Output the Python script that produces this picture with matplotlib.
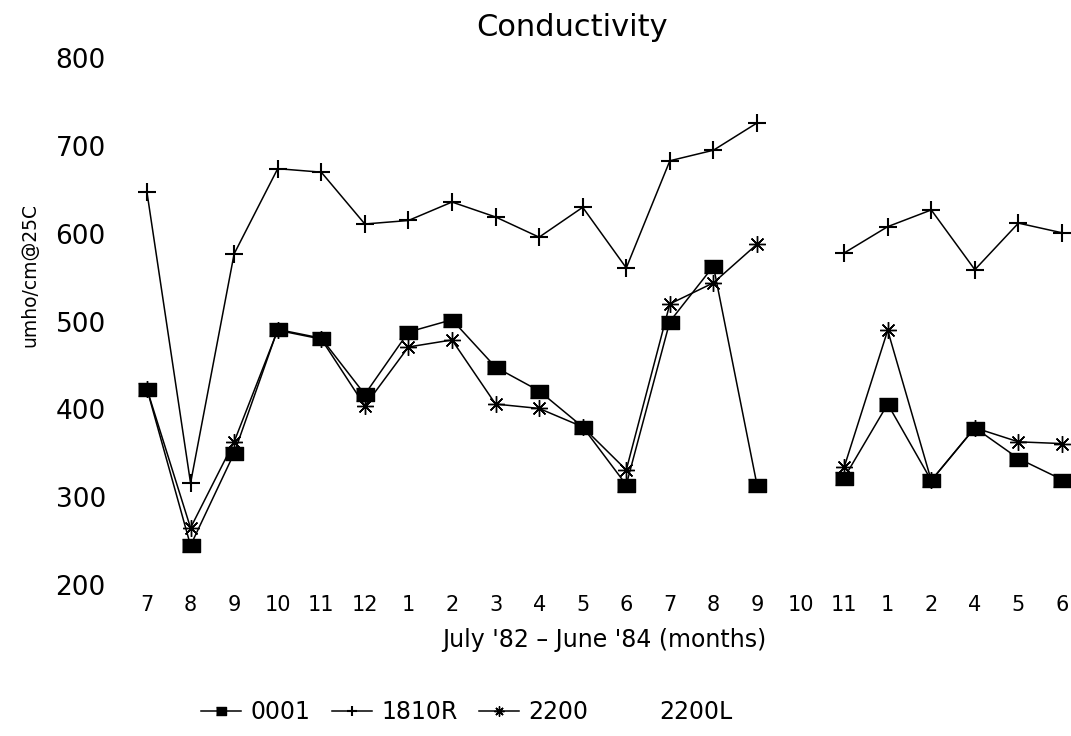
import numpy as np
import matplotlib
matplotlib.use("Agg")
import matplotlib.pyplot as plt

# Monthly conductivity, July '82 - June '84 (one gap at the second "10")
months = ['7', '8', '9', '10', '11', '12', '1', '2', '3', '4', '5', '6',
          '7', '8', '9', '10', '11', '1', '2', '4', '5', '6']
nan = np.nan
s0001 = [423, 245, 350, 491, 481, 417, 488, 502, 448, 421, 380, 314,
         500, 563, 314, nan, 322, 406, 319, 379, 344, 320]
s1810R = [647, 316, 577, 674, 670, 611, 615, 636, 619, 596, 630, 561,
          683, 695, 726, nan, 578, 608, 627, 559, 612, 601]
s2200 = [423, 265, 363, 490, 480, 404, 471, 479, 406, 401, 380, 331,
         520, 544, 588, nan, 334, 490, 319, 379, 363, 361]
s2200L = [nan] * len(months)

x = np.arange(len(months))

fig = plt.figure(figsize=(10.71, 7.36), dpi=100)
# axes placed so x=0 -> 147px, x=21 -> 1062px, y 800 -> 58px, 200 -> 585px
ax = fig.add_axes([125.2 / 1071, (736 - 585) / 736, 945.5 / 1071, 527 / 736])

rect = [(-1, -0.72), (1, -0.72), (1, 0.72), (-1, 0.72)]
lw = 1.1
l3, = ax.plot(x, s2200, color='black', lw=lw, marker=(8, 2, 0), ms=12,
              mew=1.0, label='2200', clip_on=False)
l2, = ax.plot(x, s1810R, color='black', lw=lw, marker='+', ms=13,
              mew=1.5, label='1810R', clip_on=False)
l1, = ax.plot(x, s0001, color='black', lw=lw, marker=rect, ms=13,
              label='0001', clip_on=False)
l4, = ax.plot(x, s2200L, color='none', label='2200L')

ax.set_xlim(-0.5, 21.2)
ax.set_ylim(200, 800)
ax.set_xticks(x)
ax.set_xticklabels(months, fontsize=15)
ax.set_yticks(np.arange(200, 801, 100))
ax.tick_params(axis='x', length=0, pad=7)
ax.tick_params(axis='y', length=0, pad=14, labelsize=19)
for s in ax.spines.values():
    s.set_visible(False)

fig.text(572 / 1071, 1 - 27 / 736, 'Conductivity', fontsize=22,
         ha='center', va='center')
fig.text(30 / 1071, 1 - 275 / 736, 'umho/cm@25C', fontsize=13.5,
         rotation=90, ha='center', va='center')
fig.text(604 / 1071, 1 - 640 / 736, "July '82 \u2013 June '84 (months)",
         fontsize=17, ha='center', va='center')

fig.legend(handles=[l1, l2, l3, l4], loc='center', ncol=4, frameon=False,
           bbox_to_anchor=(467 / 1071, 1 - 712 / 736), fontsize=17,
           handlelength=1.7, handletextpad=0.4, columnspacing=0.9,
           markerscale=0.6)

fig.savefig('out.png', dpi=100)
